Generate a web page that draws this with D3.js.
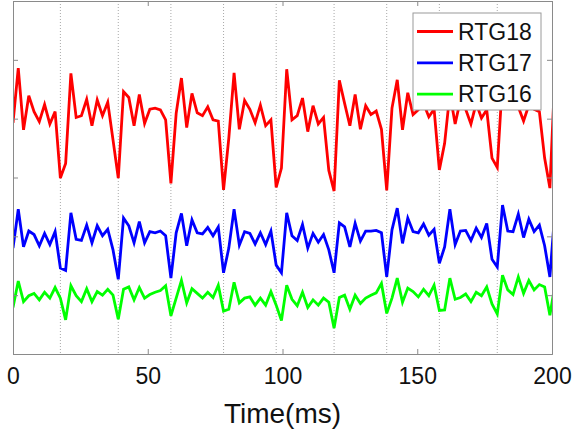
<!DOCTYPE html>
<html>
<head>
<meta charset="utf-8">
<script src="https://cdn.jsdelivr.net/npm/d3@7"></script>
<style>
  body { margin: 0; background: #fff; }
  text { font-family: "Liberation Sans", Arial, sans-serif; fill: #111; }
</style>
</head>
<body>
<div id="viz"></div>
<script>
// Sampling: one sample every 1.953125 ms (512 Hz)
const sampleMs = 1.953125;

// Series values (arbitrary units)
const rtg18 = [3.93,4.86,3.81,4.39,4.12,3.95,4.24,3.91,4.12,2.99,3.24,4.77,4.02,4.05,4.33,3.88,4.32,4.05,4.28,3.64,
  2.99,4.46,4.36,3.88,4.41,3.92,4.16,4.18,4.15,3.98,2.90,4.09,4.69,3.85,4.43,4.10,4.05,4.20,3.98,3.96,
  2.79,3.67,4.78,3.82,4.31,4.16,3.93,4.23,3.88,3.98,2.83,3.16,4.84,3.98,4.05,4.35,3.78,4.22,3.91,4.02,
  3.12,2.77,4.65,4.26,3.88,4.41,3.82,4.22,4.07,4.13,3.82,2.78,4.18,4.66,3.81,4.44,4.07,4.15,4.26,4.03,
  4.16,3.13,3.58,4.43,3.91,4.32,4.16,3.91,4.26,4.01,4.15,3.33,3.17,4.66,4.20,4.32,4.20,3.96,4.23,4.16,
  4.12,3.33,2.82,4.88];
const rtg17 = [1.80,2.46,1.82,2.09,2.03,1.84,2.05,1.86,2.08,1.46,1.42,2.40,1.95,1.93,2.19,1.89,2.18,2.01,2.12,1.77,
  1.27,2.31,2.18,1.89,2.25,1.89,2.08,2.06,2.09,2.01,1.29,2.06,2.39,1.84,2.28,2.06,2.04,2.15,2.01,2.16,
  1.38,1.80,2.46,1.85,2.08,2.05,1.87,2.06,1.86,2.09,1.51,1.38,2.40,2.01,1.93,2.20,1.80,2.05,1.90,2.03,
  1.77,1.38,2.23,2.16,1.82,2.22,1.92,2.09,2.09,2.10,2.06,1.31,2.11,2.48,1.88,2.31,2.08,2.06,2.21,2.02,
  2.12,1.54,1.82,2.46,1.86,2.09,2.10,1.93,2.14,1.98,2.22,1.61,1.48,2.53,2.09,2.08,2.38,1.98,2.29,2.08,
  2.19,1.84,1.31,2.49];
const rtg16 = [0.79,1.24,0.89,0.99,1.03,0.92,1.05,0.95,1.13,0.95,0.58,1.16,0.99,0.89,1.11,0.89,1.06,1.00,1.10,1.00,
  0.59,1.10,1.14,0.92,1.13,0.95,1.01,1.05,1.08,1.16,0.65,0.95,1.25,0.87,1.11,1.03,0.95,1.05,0.96,1.17,
  0.73,0.76,1.22,0.87,0.95,0.97,0.83,0.95,0.83,1.06,0.83,0.57,1.17,0.93,0.82,1.05,0.79,0.92,0.83,0.95,
  0.88,0.44,0.96,1.00,0.76,1.00,0.86,0.95,1.00,1.04,1.20,0.69,0.95,1.29,0.88,1.12,1.06,0.97,1.10,0.99,
  1.17,0.74,0.75,1.29,0.93,0.96,1.02,0.89,1.05,0.99,1.14,0.85,0.68,1.34,1.09,1.01,1.31,1.03,1.25,1.09,
  1.18,1.14,0.66,1.20];

// Event markers (dotted lines), in ms
const markers = [17.58, 39.06, 58.59, 78.13, 97.66, 119.14, 138.67, 158.20, 179.69];

// Axis ticks
const xTicks = [0, 50, 100, 150, 200];
const yTicks = [0, 1, 2, 3, 4, 5, 6];

const seriesNames = ["RTG18", "RTG17", "RTG16"];
const seriesColors = ["#ff0000", "#0000ff", "#00ff00"];
const seriesValues = [rtg18, rtg17, rtg16];

// Chart geometry
const width = 574;
const height = 434;
const margin = {top: 1, bottom: 80, right: 22, left: 13};
const innerWidth = width - margin.left - margin.right;
const innerHeight = height - margin.top - margin.bottom;
const tickLen = 5;
const axisColor = "#8a8a8a";
const lineWidth = 2.8;

const svg = d3.select("#viz")
  .append("svg")
  .attr("width", width)
  .attr("height", height);

const g = svg.append("g")
  .attr("transform", "translate(" + margin.left + "," + margin.top + ")");

const xScale = d3.scaleLinear().domain([0, 200]).range([0, innerWidth]);
const yScale = d3.scaleLinear().domain([0, 6]).range([innerHeight, 0]);

// Clip the lines to the axes box
g.append("clipPath").attr("id", "plot-clip")
  .append("rect")
  .attr("width", innerWidth)
  .attr("height", innerHeight);

// Dotted marker lines
g.selectAll(".marker")
  .data(markers)
  .enter().append("line")
  .attr("x1", d => xScale(d)).attr("x2", d => xScale(d))
  .attr("y1", 0).attr("y2", innerHeight)
  .attr("stroke", "#a8a8a8")
  .attr("stroke-width", 1)
  .attr("stroke-dasharray", "1,2");

// The lines
const lineGenerator = d3.line()
  .x((d, i) => xScale(i * sampleMs))
  .y(d => yScale(d));

g.append("g").attr("clip-path", "url(#plot-clip)")
  .selectAll(".line-path")
  .data(seriesValues)
  .enter().append("path")
  .attr("class", "line-path")
  .attr("d", d => lineGenerator(d))
  .attr("fill", "none")
  .attr("stroke", (d, i) => seriesColors[i])
  .attr("stroke-width", lineWidth)
  .attr("stroke-linejoin", "miter");

// Axes: MATLAB-style box with inward ticks
const xAxisB = g.append("g")
  .attr("transform", "translate(0," + innerHeight + ")")
  .call(d3.axisBottom(xScale).tickValues(xTicks).tickSize(-tickLen).tickPadding(14));
const xAxisT = g.append("g")
  .call(d3.axisTop(xScale).tickValues(xTicks).tickSize(-tickLen).tickFormat(""));
const yAxisL = g.append("g")
  .call(d3.axisLeft(yScale).tickValues(yTicks).tickSize(-tickLen).tickFormat(""));
const yAxisR = g.append("g")
  .attr("transform", "translate(" + innerWidth + ",0)")
  .call(d3.axisRight(yScale).tickValues(yTicks).tickSize(-tickLen).tickFormat(""));

[xAxisB, xAxisT, yAxisL, yAxisR].forEach(a => {
  a.select(".domain").attr("stroke", axisColor);
  a.selectAll(".tick line").attr("stroke", axisColor);
});
// The box sides carry no labels
[xAxisT, yAxisL, yAxisR].forEach(a => a.selectAll(".tick text").remove());
xAxisB.selectAll(".tick text")
  .attr("font-size", "23px")
  .attr("fill", "#111");

// X-axis label
svg.append("text")
  .attr("x", margin.left + innerWidth / 2)
  .attr("y", 423)
  .attr("text-anchor", "middle")
  .attr("font-size", "28px")
  .text("Time(ms)");

// Legend
const legend = svg.append("g").attr("transform", "translate(413,13)");
legend.append("rect")
  .attr("width", 128)
  .attr("height", 97)
  .attr("fill", "#fff")
  .attr("stroke", "#9a9a9a");
const rows = legend.selectAll(".row")
  .data(seriesNames)
  .enter().append("g")
  .attr("transform", (d, i) => "translate(0," + (18.5 + i * 31.3) + ")");
rows.append("line")
  .attr("x1", 4).attr("x2", 40)
  .attr("stroke", (d, i) => seriesColors[i])
  .attr("stroke-width", lineWidth);
rows.append("text")
  .attr("x", 45)
  .attr("y", 8)
  .attr("font-size", "23px")
  .text(d => d);
</script>
</body>
</html>
